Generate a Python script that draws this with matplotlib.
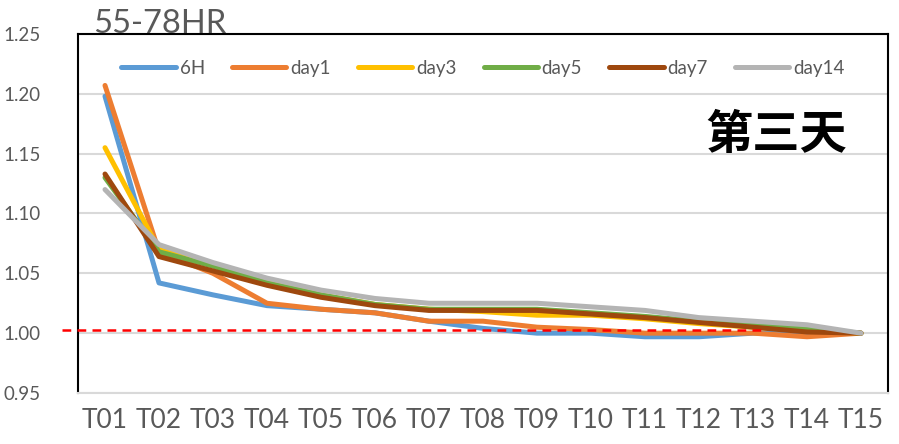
import numpy as np
import matplotlib
matplotlib.use("Agg")
from matplotlib import pyplot as plt

plt.rcParams['font.family'] = ['Lato', 'Noto Sans CJK SC', 'DejaVu Sans']

# data
labels = ['T01', 'T02', 'T03', 'T04', 'T05', 'T06', 'T07', 'T08',
          'T09', 'T10', 'T11', 'T12', 'T13', 'T14', 'T15']
s_6h = [1.198, 1.042, 1.032, 1.023, 1.020, 1.017, 1.010, 1.004,
        1.000, 1.000, 0.997, 0.997, 1.000, 1.000, 1.000]
s_day1 = [1.207, 1.068, 1.050, 1.025, 1.020, 1.017, 1.010, 1.010,
          1.005, 1.003, 1.000, 1.000, 1.000, 0.997, 1.000]
s_day3 = [1.155, 1.070, 1.057, 1.043, 1.032, 1.024, 1.020, 1.018,
          1.015, 1.015, 1.012, 1.008, 1.005, 1.002, 1.000]
s_day5 = [1.130, 1.068, 1.056, 1.042, 1.032, 1.024, 1.020, 1.020,
          1.020, 1.017, 1.014, 1.010, 1.008, 1.004, 1.000]
s_day7 = [1.133, 1.064, 1.052, 1.040, 1.030, 1.023, 1.019, 1.019,
          1.019, 1.016, 1.013, 1.009, 1.005, 1.001, 1.000]
s_day14 = [1.120, 1.074, 1.059, 1.046, 1.036, 1.029, 1.025, 1.025,
           1.025, 1.022, 1.019, 1.013, 1.010, 1.007, 1.000]
series = [('6H', s_6h, '#5B9BD5'), ('day1', s_day1, '#ED7D31'),
          ('day3', s_day3, '#FFC000'), ('day5', s_day5, '#70AD47'),
          ('day7', s_day7, '#9E480E'), ('day14', s_day14, '#B4B4B4')]
ref_level = 1.0025
yticks = [0.95, 1.00, 1.05, 1.10, 1.15, 1.20, 1.25]

fig = plt.figure(figsize=(8.99, 4.44), dpi=100)
ax = fig.add_axes([78/899, 1-393/444, (888-78)/899, (393-34)/444])

x = np.arange(len(labels))
for name, vals, col in series:
    ax.plot(x, vals, color=col, lw=3.6, label=name,
            solid_capstyle='round', solid_joinstyle='round')

# red reference line
ax.plot([-0.8, 12.17], [ref_level, ref_level], color='#FF0000', lw=1.8,
        ls=(0, (3.5, 2.5)), clip_on=False, zorder=5)

ax.set_xlim(-0.5, 14.5)
ax.set_ylim(0.95, 1.25)
ax.set_yticks(yticks)
ax.set_yticklabels([f'{v:.2f}' for v in yticks])
ax.set_xticks(x)
ax.set_xticklabels(labels)
ax.tick_params(axis='both', length=0, colors='#595959')
ax.tick_params(axis='y', labelsize=13.5, pad=27)
ax.tick_params(axis='x', labelsize=19, pad=11)

ax.grid(axis='y', color='#D9D9D9', lw=1.5)
ax.set_axisbelow(True)
for side in ['left', 'top', 'right']:
    ax.spines[side].set_color('black')
    ax.spines[side].set_linewidth(1.5)
ax.spines['bottom'].set_color('#D9D9D9')
ax.spines['bottom'].set_linewidth(1.5)

leg = ax.legend(loc='center', bbox_to_anchor=(0.5, 0.905), ncol=6,
                frameon=False, fontsize=13.5, handlelength=2.9,
                columnspacing=1.45, handletextpad=0.2)
for t in leg.get_texts():
    t.set_color('#595959')

fig.text(93/899, 1-24/444, '55-78HR', fontsize=23.5, color='#595959',
         va='center', ha='left')
ax.text(0.949, 0.72, '第三天', transform=ax.transAxes, fontsize=34,
        fontweight='bold', ha='right', va='center',
        family=['Noto Sans CJK SC', 'DejaVu Sans'])

fig.savefig('out.png', dpi=100)
